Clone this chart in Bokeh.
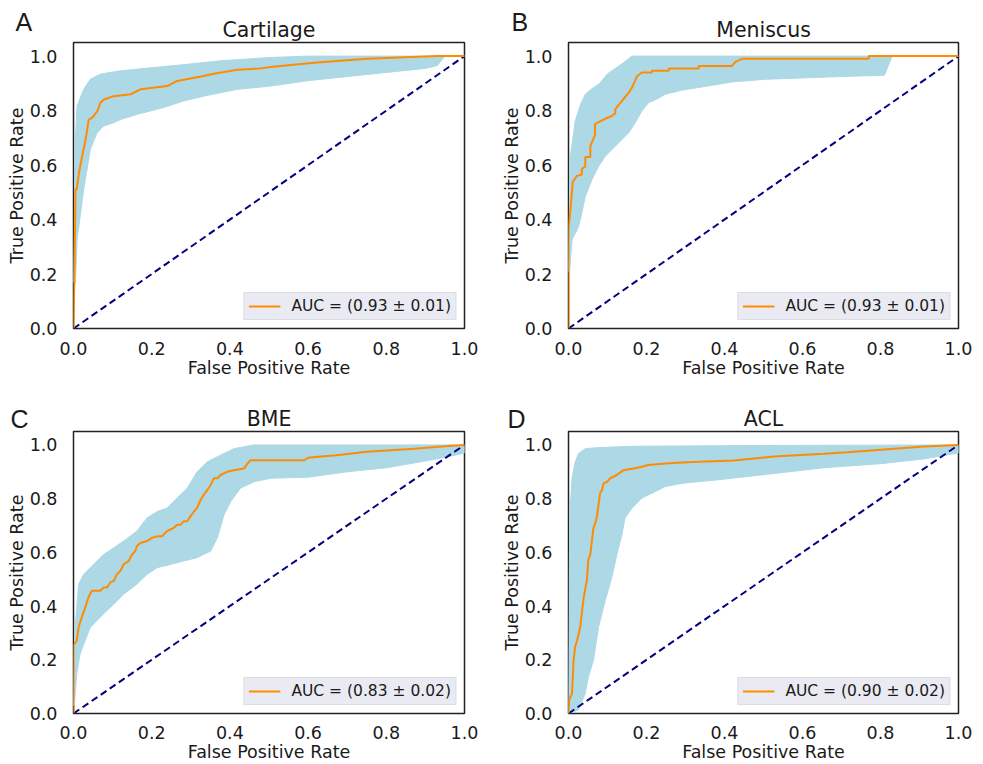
from bokeh.plotting import figure
from bokeh.layouts import column, row
from bokeh.models import Range1d, FixedTicker, PrintfTickFormatter, Label, Legend, LegendItem
from bokeh.embed import file_html
from bokeh.resources import INLINE

# ---------------- data ----------------
titles = ["Cartilage", "Meniscus", "BME", "ACL"]
letters = ["A", "B", "C", "D"]
auc_labels = ["AUC = (0.93 \u00b1 0.01)", "AUC = (0.93 \u00b1 0.01)",
              "AUC = (0.83 \u00b1 0.02)", "AUC = (0.90 \u00b1 0.02)"]
tick_values = [0.0, 0.2, 0.4, 0.6, 0.8, 1.0]
chance_line = [0.0, 1.0]

# Cartilage
cart_fpr = [0, 0.003, 0.005, 0.008, 0.014, 0.022, 0.031, 0.039, 0.048, 0.061, 0.069, 0.078,
            0.103, 0.146, 0.171, 0.240, 0.265, 0.333, 0.359, 0.419, 0.478, 0.504, 0.623,
            0.751, 0.93, 1.0]
cart_tpr = [0, 0.25, 0.51, 0.51, 0.571, 0.632, 0.694, 0.767, 0.774, 0.798, 0.829, 0.841,
            0.853, 0.860, 0.878, 0.890, 0.909, 0.927, 0.935, 0.950, 0.955, 0.960, 0.977,
            0.99, 1.0, 1.0]
cart_hi_x = [0.0, 0.005, 0.009, 0.026, 0.043, 0.069, 0.120, 0.205, 0.291, 0.376, 0.504, 0.6, 1.0]
cart_hi_y = [0.17, 0.70, 0.817, 0.878, 0.915, 0.934, 0.946, 0.958, 0.970, 0.983, 0.995, 1.0, 1.0]
cart_lo_x = [0.0, 0.005, 0.009, 0.026, 0.043, 0.060, 0.077, 0.102, 0.120, 0.162, 0.230, 0.281,
             0.333, 0.419, 0.504, 0.6, 0.7, 0.8, 0.9, 0.93, 0.95, 1.0]
cart_lo_y = [0.17, 0.165, 0.325, 0.509, 0.657, 0.718, 0.743, 0.755, 0.767, 0.786, 0.811, 0.835,
             0.853, 0.878, 0.890, 0.91, 0.925, 0.94, 0.955, 0.965, 1.0, 1.0]

# Meniscus
men_fpr = [0, 0, 0.004, 0.010, 0.010, 0.021, 0.034, 0.034, 0.043, 0.043, 0.056, 0.056, 0.068,
           0.068, 0.081, 0.094, 0.111, 0.120, 0.120, 0.128, 0.137, 0.145, 0.154, 0.163, 0.171,
           0.175, 0.188, 0.214, 0.214, 0.257, 0.257, 0.334, 0.334, 0.419, 0.428, 0.445, 0.77,
           0.77, 1.0]
men_tpr = [0, 0.37, 0.42, 0.52, 0.535, 0.56, 0.565, 0.585, 0.595, 0.63, 0.63, 0.67, 0.71,
           0.75, 0.76, 0.77, 0.78, 0.79, 0.805, 0.82, 0.835, 0.85, 0.865, 0.885, 0.91,
           0.925, 0.94, 0.94, 0.946, 0.946, 0.955, 0.955, 0.964, 0.964, 0.979, 0.99, 0.99,
           1.0, 1.0]
men_hi_x = [0.0, 0.004, 0.017, 0.03, 0.043, 0.06, 0.08, 0.10, 0.12, 0.14, 0.163, 1.0]
men_hi_y = [0.21, 0.62, 0.76, 0.82, 0.86, 0.88, 0.90, 0.935, 0.955, 0.975, 1.0, 1.0]
men_lo_x = [0.0, 0.003, 0.009, 0.026, 0.034, 0.043, 0.060, 0.077, 0.094, 0.120, 0.137, 0.154,
            0.171, 0.188, 0.205, 0.231, 0.248, 0.291, 0.334, 0.419, 0.505, 0.6, 0.7, 0.81,
            0.83, 1.0]
men_lo_y = [0.21, 0.214, 0.325, 0.374, 0.423, 0.484, 0.546, 0.595, 0.632, 0.669, 0.694, 0.718,
            0.755, 0.798, 0.829, 0.845, 0.86, 0.875, 0.885, 0.905, 0.915, 0.92, 0.925, 0.93,
            1.0, 1.0]

# BME
bme_fpr = [0, 0, 0.0085, 0.013, 0.021, 0.030, 0.038, 0.047, 0.068, 0.077, 0.086, 0.094, 0.103,
           0.111, 0.120, 0.128, 0.141, 0.150, 0.158, 0.162, 0.171, 0.188, 0.201, 0.214, 0.227,
           0.239, 0.248, 0.256, 0.265, 0.274, 0.282, 0.291, 0.299, 0.308, 0.316, 0.325, 0.333,
           0.342, 0.351, 0.359, 0.368, 0.376, 0.393, 0.410, 0.436, 0.445, 0.453, 0.59, 0.60,
           0.633, 0.667, 0.75, 0.872, 0.95, 1.0]
bme_tpr = [0, 0.254, 0.272, 0.321, 0.358, 0.395, 0.432, 0.457, 0.457, 0.469, 0.469, 0.488,
           0.494, 0.518, 0.531, 0.555, 0.568, 0.592, 0.605, 0.623, 0.635, 0.642, 0.654, 0.660,
           0.660, 0.679, 0.685, 0.691, 0.703, 0.703, 0.716, 0.716, 0.734, 0.752, 0.765, 0.795,
           0.814, 0.832, 0.851, 0.876, 0.876, 0.888, 0.900, 0.906, 0.912, 0.931, 0.943, 0.943,
           0.952, 0.957, 0.961, 0.975, 0.986, 0.995, 1.0]
bme_hi_x = [0.0, 0.003, 0.007, 0.013, 0.026, 0.043, 0.060, 0.077, 0.103, 0.128, 0.162, 0.188,
            0.214, 0.239, 0.265, 0.291, 0.316, 0.342, 0.376, 0.41, 0.46, 1.0]
bme_hi_y = [0.03, 0.30, 0.371, 0.481, 0.518, 0.543, 0.568, 0.592, 0.617, 0.642, 0.679, 0.728,
            0.752, 0.765, 0.802, 0.839, 0.900, 0.937, 0.962, 0.986, 1.0, 1.0]
bme_lo_x = [0.0, 0.003, 0.0085, 0.017, 0.030, 0.043, 0.060, 0.077, 0.103, 0.128, 0.162, 0.188,
            0.214, 0.248, 0.282, 0.316, 0.351, 0.368, 0.385, 0.402, 0.427, 0.462, 0.504, 0.6,
            0.7, 0.8, 0.9, 0.97, 1.0]
bme_lo_y = [0.03, 0.05, 0.149, 0.223, 0.272, 0.321, 0.346, 0.371, 0.407, 0.444, 0.481, 0.518,
            0.543, 0.555, 0.568, 0.580, 0.605, 0.654, 0.740, 0.789, 0.839, 0.863, 0.876, 0.88,
            0.90, 0.915, 0.94, 0.96, 0.97]

# ACL
acl_fpr = [0, 0.002, 0.009, 0.013, 0.017, 0.022, 0.026, 0.030, 0.034, 0.039, 0.045, 0.047,
           0.051, 0.056, 0.060, 0.064, 0.069, 0.073, 0.077, 0.081, 0.086, 0.090, 0.099, 0.107,
           0.124, 0.141, 0.167, 0.188, 0.205, 0.248, 0.291, 0.334, 0.424, 0.526, 0.655, 0.715,
           0.826, 0.912, 1.0]
acl_tpr = [0, 0.051, 0.075, 0.198, 0.248, 0.272, 0.297, 0.321, 0.371, 0.432, 0.481, 0.494,
           0.574, 0.592, 0.642, 0.691, 0.709, 0.734, 0.777, 0.820, 0.832, 0.857, 0.863, 0.876,
           0.888, 0.906, 0.912, 0.919, 0.925, 0.931, 0.935, 0.937, 0.942, 0.957, 0.967, 0.973,
           0.985, 0.994, 1.0]
acl_hi_x = [0.0, 0.002, 0.004, 0.009, 0.017, 0.026, 0.043, 0.077, 0.163, 0.5, 1.0]
acl_hi_y = [0.0, 0.55, 0.752, 0.876, 0.937, 0.968, 0.986, 0.99, 0.995, 0.998, 1.0]
acl_lo_x = [0.0, 0.026, 0.043, 0.051, 0.064, 0.077, 0.094, 0.111, 0.124, 0.137, 0.145, 0.163,
            0.188, 0.222, 0.248, 0.291, 0.376, 0.505, 0.655, 0.8, 0.912, 1.0]
acl_lo_y = [0.0, 0.014, 0.075, 0.136, 0.198, 0.321, 0.420, 0.506, 0.592, 0.666, 0.728, 0.765,
            0.802, 0.826, 0.845, 0.857, 0.869, 0.89, 0.915, 0.93, 0.948, 0.97]

# ---------------- styling ----------------
FONT = "DejaVu Sans"
TEXT_COLOR = "#1a1a1a"
BAND_COLOR = "#add8e6"
ROC_COLOR = "#ff8c00"


def make_panel(idx, fpr, tpr, hi_x, hi_y, lo_x, lo_y, width, height,
               b_left, b_right, b_top, b_bottom, letter_xy,
               tick_standoff, label_standoff):
    p = figure(width=width, height=height, x_range=Range1d(0, 1), y_range=Range1d(0, 1.05),
               output_backend="svg", toolbar_location=None, title=titles[idx],
               min_border_left=b_left, min_border_right=b_right,
               min_border_top=b_top, min_border_bottom=b_bottom)
    p.title.text_font = FONT
    p.title.text_font_size = "20.5px"
    p.title.text_font_style = "normal"
    p.title.text_color = TEXT_COLOR
    p.title.align = "center"
    p.title.standoff = 2

    band_x = list(hi_x) + list(reversed(lo_x))
    band_y = list(hi_y) + list(reversed(lo_y))
    p.patch(band_x, band_y, fill_color=BAND_COLOR, line_color=BAND_COLOR, line_width=1)
    p.line(chance_line, chance_line, line_color="navy", line_width=2, line_dash="7 4")
    roc = p.line(fpr, tpr, line_color=ROC_COLOR, line_width=2)

    legend = Legend(items=[LegendItem(label=auc_labels[idx], renderers=[roc])],
                    location="bottom_right", margin=8, padding=4, spacing=0,
                    glyph_width=32, glyph_height=18, label_standoff=11,
                    label_text_font=FONT, label_text_font_size="15.5px",
                    label_text_color=TEXT_COLOR,
                    background_fill_color="#eaeaf2", background_fill_alpha=1.0,
                    border_line_color="#d0d0d8", border_line_width=1)
    p.add_layout(legend)

    for ax in (p.xaxis, p.yaxis):
        ax.ticker = FixedTicker(ticks=tick_values)
        ax.formatter = PrintfTickFormatter(format="%.1f")
        ax.axis_line_color = None
        ax.major_tick_line_color = None
        ax.minor_tick_line_color = None
        ax.major_label_text_font = FONT
        ax.major_label_text_font_size = "17.5px"
        ax.major_label_text_color = TEXT_COLOR
        ax.axis_label_text_font = FONT
        ax.axis_label_text_font_size = "17.5px"
        ax.axis_label_text_font_style = "normal"
        ax.axis_label_text_color = TEXT_COLOR
    p.xaxis.axis_label = "False Positive Rate"
    p.yaxis.axis_label = "True Positive Rate"
    p.xaxis.major_label_standoff = tick_standoff
    p.xaxis.axis_label_standoff = label_standoff
    p.yaxis.major_label_standoff = 10
    p.yaxis.axis_label_standoff = 0

    p.grid.visible = False
    p.outline_line_color = "#222222"
    p.outline_line_width = 1.5
    p.background_fill_color = "white"
    p.border_fill_color = "white"

    # panel letter: placed in the (empty) right side panel so it is not clipped to the frame;
    p.add_layout(Label(x=letter_xy[0], y=letter_xy[1], x_units="canvas", y_units="canvas",
                       text=letters[idx], text_font="Liberation Sans", text_font_size="25px",
                       text_color=TEXT_COLOR, text_baseline="alphabetic",
                       text_align="left"), "right")
    return p


pa = make_panel(0, cart_fpr, cart_tpr, cart_hi_x, cart_hi_y, cart_lo_x, cart_lo_y,
                490, 380, 73, 26, 42, 52, (15, 21), 7, 0)
pb = make_panel(1, men_fpr, men_tpr, men_hi_x, men_hi_y, men_lo_x, men_lo_y,
                490, 380, 78, 22, 42, 52, (21, 21), 7, 0)
pc = make_panel(2, bme_fpr, bme_tpr, bme_hi_x, bme_hi_y, bme_lo_x, bme_lo_y,
                490, 384, 73, 26, 51, 51, (10, 38), 6, 0)
pd_ = make_panel(3, acl_fpr, acl_tpr, acl_hi_x, acl_hi_y, acl_lo_x, acl_lo_y,
                 490, 384, 78, 22, 51, 51, (17, 38), 6, 0)

layout = column(row(pa, pb), row(pc, pd_))
open("out.html", "w").write(file_html(layout, INLINE))
